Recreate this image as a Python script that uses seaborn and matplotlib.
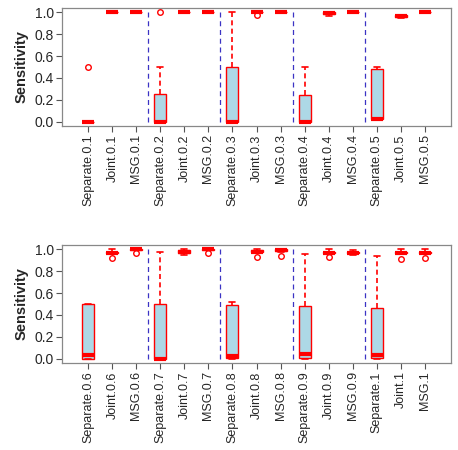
import pandas as pd
import numpy as np
import matplotlib.pyplot as plt
import seaborn as sns

methods = ['Separate', 'Joint', 'MSG']
levels_top = ['0.1', '0.2', '0.3', '0.4', '0.5']
levels_bottom = ['0.6', '0.7', '0.8', '0.9', '1']

separate_01 = [0, 0, 0, 0, 0, 0, 0, 0, 0, 0.5]
joint_01 = [1.0] * 10
msg_01 = [1.0] * 10
separate_02 = [0, 0, 0, 0, 0, 0, 0.25, 0.25, 0.5, 1.0]
joint_02 = [1.0] * 10
msg_02 = [1.0] * 10
separate_03 = [0, 0, 0, 0, 0, 0, 0.5, 0.5, 0.5, 1.0]
joint_03 = [0.98, 1, 1, 1, 1, 1, 1, 1, 1, 1]
msg_03 = [1.0] * 10
separate_04 = [0, 0, 0, 0, 0, 0, 0.24, 0.24, 0.5, 0.5]
joint_04 = [0.97, 0.98, 0.98, 0.99, 0.99, 1, 1, 1, 1, 1]
msg_04 = [1.0] * 10
separate_05 = [0.02, 0.02, 0.02, 0.02, 0.02, 0.02, 0.48, 0.48, 0.5, 0.5]
joint_05 = [0.95, 0.96, 0.96, 0.97, 0.97, 0.97, 0.98, 0.98, 0.98, 0.98]
msg_05 = [1.0] * 10

separate_06 = [0, 0, 0, 0, 0.03, 0.03, 0.5, 0.5, 0.5, 0.5]
joint_06 = [0.92, 0.96, 0.96, 0.97, 0.97, 0.97, 0.98, 0.98, 0.99, 1.0]
msg_06 = [0.97, 0.99, 0.99, 0.99, 1, 1, 1, 1, 1, 1]
separate_07 = [0, 0, 0, 0, 0, 0, 0.5, 0.5, 0.5, 0.98]
joint_07 = [0.95, 0.96, 0.96, 0.97, 0.98, 0.98, 0.99, 0.99, 0.99, 1.0]
msg_07 = [0.97, 0.99, 0.99, 0.995, 1, 1, 1, 1, 1, 1]
separate_08 = [0, 0, 0, 0.02, 0.02, 0.02, 0.49, 0.49, 0.52, 0.52]
joint_08 = [0.93, 0.97, 0.97, 0.98, 0.98, 0.98, 0.99, 0.99, 0.99, 1.0]
msg_08 = [0.94, 0.98, 0.98, 0.99, 0.99, 1, 1, 1, 1, 1]
separate_09 = [0, 0, 0, 0.04, 0.04, 0.04, 0.48, 0.48, 0.48, 0.96]
joint_09 = [0.93, 0.96, 0.96, 0.97, 0.97, 0.97, 0.98, 0.98, 0.99, 1.0]
msg_09 = [0.95, 0.96, 0.96, 0.97, 0.97, 0.97, 0.98, 0.98, 0.98, 0.99]
separate_1 = [0, 0, 0, 0.03, 0.03, 0.03, 0.46, 0.46, 0.46, 0.94]
joint_1 = [0.91, 0.96, 0.96, 0.97, 0.97, 0.97, 0.98, 0.98, 0.99, 1.0]
msg_1 = [0.92, 0.96, 0.96, 0.97, 0.97, 0.97, 0.98, 0.98, 0.99, 1.0]

top_groups = [separate_01, joint_01, msg_01, separate_02, joint_02, msg_02,
              separate_03, joint_03, msg_03, separate_04, joint_04, msg_04,
              separate_05, joint_05, msg_05]
bottom_groups = [separate_06, joint_06, msg_06, separate_07, joint_07, msg_07,
                 separate_08, joint_08, msg_08, separate_09, joint_09, msg_09,
                 separate_1, joint_1, msg_1]


def build_frame(levels, groups):
    labels = [f'{m}.{lv}' for lv in levels for m in methods]
    rows = []
    for lab, vals in zip(labels, groups):
        for v in vals:
            rows.append({'group': lab, 'value': v})
    return pd.DataFrame(rows), labels


def draw_panel(ax, levels, groups):
    df, labels = build_frame(levels, groups)
    sns.boxplot(data=df, x='group', y='value', order=labels, ax=ax,
                color='lightblue', linecolor='red', saturation=1, width=0.5,
                linewidth=1.0,
                whis=1.5,
                whiskerprops=dict(linestyle=(0, (3, 2)), linewidth=1.2),
                capprops=dict(linewidth=1.2),
                medianprops=dict(linewidth=3, color='red'),
                flierprops=dict(marker='o', markerfacecolor='none',
                                markeredgecolor='red', markersize=4,
                                markeredgewidth=1.0))
    # separators between levels
    for k in range(1, len(levels)):
        ax.vlines(3 * k - 0.5, 0, 1, colors='#3b33c4', linestyles=(0, (4, 3)),
                  linewidth=0.9)
    ax.set_xlim(-1.1, 15.1)
    ax.set_ylim(-0.04, 1.04)
    ax.set_yticks([0, 0.2, 0.4, 0.6, 0.8, 1.0])
    ax.set_yticklabels(['0.0', '0.2', '0.4', '0.6', '0.8', '1.0'], fontsize=10)
    ax.set_xticks(range(len(labels)))
    ax.set_xticklabels(labels, rotation=90, fontsize=9)
    ax.set_xlabel('')
    ax.set_ylabel('Sensitivity', fontsize=10.5, fontweight='bold', labelpad=4)
    ax.tick_params(axis='both', direction='out', length=4, width=0.8,
                   color='#555555', pad=2, left=True, bottom=True)
    for sp in ax.spines.values():
        sp.set_color('#888888')
        sp.set_linewidth(0.9)


sns.set_style('white')
plt.rcParams['font.family'] = ['Liberation Sans', 'DejaVu Sans']

fig = plt.figure(figsize=(4.58, 4.5), dpi=100)
ax1 = fig.add_axes([0.1354, 0.72, 0.8493, 0.262])
ax2 = fig.add_axes([0.1354, 0.1933, 0.8493, 0.2623])
draw_panel(ax1, levels_top, top_groups)
draw_panel(ax2, levels_bottom, bottom_groups)

fig.savefig('out.png', dpi=100)
